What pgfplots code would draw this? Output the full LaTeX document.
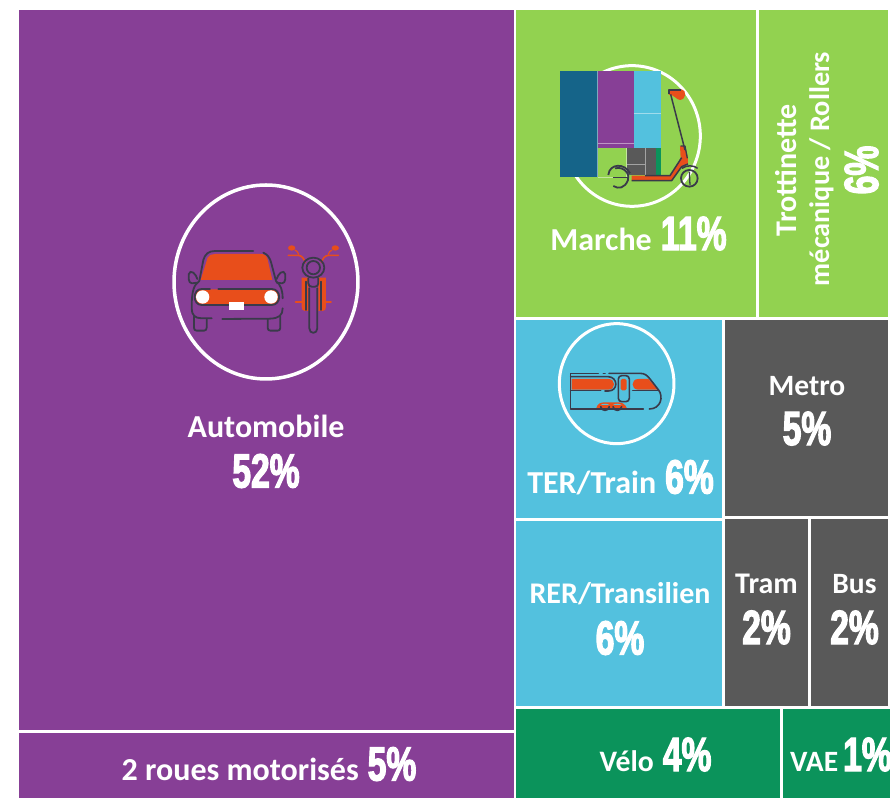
\documentclass[border=0pt]{standalone}
\usepackage{pgfplots}
\pgfplotsset{compat=1.18}
\usepackage{fontspec}
\setmainfont{Carlito}[BoldFont={Carlito Bold}]
\newfontfamily\numfont[FakeStretch=0.7,FakeBold=2.5]{Liberation Sans Bold}
\definecolor{cpurple}{HTML}{873F96}
\definecolor{cgreen}{HTML}{92D250}
\definecolor{ccyan}{HTML}{53C1DE}
\definecolor{cgray}{HTML}{595959}
\definecolor{cdgreen}{HTML}{0B935B}
\definecolor{cblue}{HTML}{156489}
\definecolor{corange}{HTML}{E84E1B}
\definecolor{cline}{HTML}{3A3A4A}
\newcommand{\lab}[2][32]{{\color{white}\fontsize{#1}{#1}\selectfont\bfseries #2}}
\newcommand{\num}[1]{{\color{white}\fontsize{48}{48}\numfont #1}}
\newcommand{\gap}{\hspace{9pt}}
\begin{document}
\begin{tikzpicture}
\path[use as bounding box] (0,0) rectangle (890pt,798pt);
\begin{axis}[at={(0,0)},anchor=south west,scale only axis,width=890pt,height=798pt,
  xmin=0,xmax=890,ymin=0,ymax=798,y dir=reverse,hide axis,clip=false,
  every node/.append style={inner sep=0pt,outer sep=0pt},
  every axis plot/.append style={draw=none}]
\addplot[fill=cpurple] coordinates {(19,10)(514,10)(514,730)(19,730)} -- cycle;
\addplot[fill=cpurple] coordinates {(19,733)(514,733)(514,798)(19,798)} -- cycle;
\addplot[fill=cgreen] coordinates {(516,10)(755.5,10)(755.5,317)(516,317)} -- cycle;
\addplot[fill=cgreen] coordinates {(758.5,10)(888,10)(888,317)(758.5,317)} -- cycle;
\addplot[fill=ccyan] coordinates {(516,320)(722,320)(722,518)(516,518)} -- cycle;
\addplot[fill=ccyan] coordinates {(516,521)(722,521)(722,706)(516,706)} -- cycle;
\addplot[fill=cgray] coordinates {(725,320)(888,320)(888,515.5)(725,515.5)} -- cycle;
\addplot[fill=cgray] coordinates {(725,518.5)(807.5,518.5)(807.5,706)(725,706)} -- cycle;
\addplot[fill=cgray] coordinates {(810.5,518.5)(888,518.5)(888,706)(810.5,706)} -- cycle;
\addplot[fill=cdgreen] coordinates {(516,708.5)(779.5,708.5)(779.5,798)(516,798)} -- cycle;
\addplot[fill=cdgreen] coordinates {(783,708.5)(890,708.5)(890,798)(783,798)} -- cycle;
% labels
\node[anchor=base] at (axis cs:266,437.5) {\lab{Automobile}};
\node[anchor=base] at (axis cs:266,487.5) {\num{52\%}};
\node[anchor=base] at (axis cs:269,780.5) {\lab{2 roues motorisés}\gap\num{5\%}};
\node[anchor=base] at (axis cs:638.5,250) {\lab{Marche}\gap\num{1\kern-1.5pt1\%}};
\node[anchor=base] at (axis cs:620.5,493.5) {\lab{TER/Train}\gap\num{6\%}};
\node[anchor=base] at (axis cs:620,603.5) {\lab[30]{RER/Transilien}};
\node[anchor=base] at (axis cs:620,654.5) {\num{6\%}};
\node[anchor=base] at (axis cs:807,395.5) {\lab[29.5]{Metro}};
\node[anchor=base] at (axis cs:807,445) {\num{5\%}};
\node[anchor=base] at (axis cs:766.5,593.5) {\lab[30]{Tram}};
\node[anchor=base] at (axis cs:766.5,644) {\num{2\%}};
\node[anchor=base] at (axis cs:854.5,593.5) {\lab[29.5]{Bus}};
\node[anchor=base] at (axis cs:854.5,644) {\num{2\%}};
\node[anchor=base] at (axis cs:655.5,771) {\lab[29.7]{Vélo}\gap\num{4\%}};
\node[anchor=base west] at (axis cs:786.5,771) {\lab[29.5]{VAE}\hspace{5pt}\num{1\%}};
\node[anchor=base,rotate=90] at (axis cs:796,170) {\lab[30]{Trottinette}};
\node[anchor=base,rotate=90] at (axis cs:829,169) {\lab[28.3]{mécanique / Rollers}};
\node[anchor=base,rotate=90] at (axis cs:878,170) {\num{6\%}};
\end{axis}
% --- car & motorbike icon (coordinates: 3x zoom pixels)
\begin{scope}[shift={(160pt,623pt)},x=0.3333pt,y=-0.3333pt,line cap=round,line join=round]
\draw[white,line width=3.5pt] (318,321) ellipse[x radius=276,y radius=291];
\fill[corange] (122,315) -- (143,248) .. controls (147,240) and (155,237) .. (165,237) -- (300,237) .. controls (312,237) and (318,240) .. (322,250) -- (337,315) -- cycle;
\fill[corange] (125,343) -- (340,343) .. controls (365,345) and (365,388) .. (340,388) -- (125,388) .. controls (100,388) and (100,345) .. (125,343) -- cycle;
\fill[white] (128,366) circle[radius=20] (333,366) circle[radius=20];
\begin{scope}[draw=cline,line width=1.8pt]
\draw (280,228) -- (165,228) .. controls (145,228) and (135,238) .. (130,255) -- (118,318);
\draw (310,233) .. controls (325,240) and (330,250) .. (334,265) -- (348,318) .. controls (362,330) and (368,345) .. (368,370);
\draw (118,318) .. controls (102,330) and (95,345) .. (95,400) .. controls (95,420) and (105,430) .. (125,430) -- (155,430);
\draw (187,432) -- (330,431) .. controls (358,430) and (368,420) .. (368,400);
\draw (112,323) -- (96,325) .. controls (90,325) and (87,320) .. (86,312) -- (86,298) .. controls (87,290) and (95,288) .. (100,293) .. controls (106,298) and (110,305) .. (112,312);
\draw (350,323) -- (366,325) .. controls (372,325) and (375,320) .. (376,312) -- (376,298) .. controls (375,290) and (367,288) .. (362,293) .. controls (356,298) and (352,305) .. (350,312);
\draw (102,425) -- (102,458) .. controls (102,464) and (105,467) .. (110,467) -- (132,467) .. controls (137,467) and (140,464) .. (140,458) -- (140,432);
\draw (323,432) -- (323,458) .. controls (323,464) and (326,467) .. (331,467) -- (353,467) .. controls (358,467) and (361,464) .. (361,458) -- (361,425);
\draw (175,342) -- (335,342) .. controls (365,342) and (365,390) .. (335,390) -- (125,390) .. controls (97,390) and (97,342) .. (125,342) -- (150,342);
\end{scope}
\fill[white] (207,380) rectangle (253,405);
% motorbike
\fill[corange] (425,308) -- (445,308) -- (445,408) -- (435,408) .. controls (428,408) and (425,403) .. (425,395) -- cycle;
\fill[corange] (475,308) -- (498,308) -- (498,395) .. controls (498,403) and (495,408) .. (488,408) -- (475,408) -- cycle;
\fill[corange] (395,219) ellipse[x radius=11,y radius=8] (526,219) ellipse[x radius=11,y radius=8];
\draw[corange,line width=1.6pt] (385,241) -- (415,241) .. controls (428,243) and (430,250) .. (436,262);
\draw[corange,line width=1.6pt] (535,241) -- (505,241) .. controls (492,243) and (490,250) .. (484,262);
\draw[corange,line width=1.2pt] (405,225) .. controls (412,228) and (414,232) .. (416,238);
\draw[corange,line width=1.2pt] (516,225) .. controls (509,228) and (507,232) .. (505,238);
\draw[corange,line width=1.8pt] (407,380) -- (428,380) (492,380) -- (513,380);
\begin{scope}[draw=cline,line width=1.8pt]
\draw (460,278) circle[radius=20];
\draw (460,278) ellipse[x radius=33,y radius=30];
\draw (445,310) -- (445,325) .. controls (445,332) and (450,335) .. (455,335) -- (465,335) .. controls (470,335) and (475,332) .. (475,325) -- (475,310);
\draw (437,320) -- (437,405) (483,320) -- (483,405);
\draw (448,340) -- (448,460) .. controls (448,478) and (472,478) .. (472,460) -- (472,340);
\end{scope}
\end{scope}
% --- train icon
\begin{scope}[shift={(510pt,483pt)},x=0.3333pt,y=-0.3333pt,line cap=round,line join=round]
\draw[white,line width=3pt] (320,206) ellipse[x radius=172,y radius=180];
\fill[corange] (185,192) -- (295,192) .. controls (318,192) and (318,224) .. (295,224) -- (185,224) -- cycle;
\fill[corange] (385,192) -- (415,192) -- (445,224) -- (385,224) .. controls (362,224) and (362,192) .. (385,192) -- cycle;
\fill[corange,rounded corners=1.5pt] (332,192) rectangle (350,226);
\fill[corange] (258,282) .. controls (262,265) and (272,262) .. (285,262) -- (322,262) .. controls (335,262) and (345,265) .. (352,282) -- cycle;
\fill[ccyan] (272,270) .. controls (277,265) and (293,265) .. (298,270) -- cycle;
\fill[ccyan] (309,270) .. controls (314,265) and (330,265) .. (335,270) -- cycle;
\begin{scope}[draw=cline,line width=1.6pt]
\draw (265,175) -- (182,175) -- (182,282) -- (400,282);
\draw (280,175) -- (285,175);
\draw (297,175) -- (390,175) .. controls (405,175) and (412,182) .. (420,192) -- (445,224) .. controls (462,245) and (452,282) .. (418,282);
\draw (182,185) -- (295,185) .. controls (325,187) and (325,228) .. (295,228) -- (285,228);
\draw (272,227) -- (182,227);
\draw (368,226) -- (445,226);
\draw (325,192) .. controls (325,186) and (330,182) .. (335,182) -- (348,182) .. controls (353,182) and (358,186) .. (358,192) -- (358,250) .. controls (358,256) and (353,260) .. (348,260) -- (335,260) .. controls (330,260) and (325,256) .. (325,250) -- cycle;
\draw (272,275) .. controls (275,290) and (295,290) .. (298,275);
\draw (309,275) .. controls (312,290) and (332,290) .. (335,275);
\end{scope}
\end{scope}
% --- marche icon: circle, small treemap pasted, scooter (coordinates: 3x zoom pixels)
\begin{scope}[shift={(550pt,738pt)},x=0.3333pt,y=-0.3333pt,line join=round]
\draw[white,line width=3pt] (246,228) ellipse[x radius=205,y radius=211];
\fill[cblue] (29,33) rectangle (143,352);
\fill[cpurple] (143,33) rectangle (251,263);
\fill[ccyan] (251,33) rectangle (332,263);
\fill[cgray] (230,263) rectangle (317,345);
\fill[cdgreen] (317,263) rectangle (332,345);
\fill[cgreen] (143,263) rectangle (230,352);
\draw[white,opacity=.45,line width=.6pt] (143,33) -- (143,352) (143,250) -- (251,250) (251,160) -- (332,160) (143,352) -- (230,352) (230,263) -- (230,352) (287,263) -- (287,345) (230,313) -- (287,313);
% scooter
\fill[corange] (245,347) -- (360,347) -- (392,295) -- (390,258) -- (405,258) -- (414,292) -- (414,312) -- (395,320) -- (365,362) -- (245,362) -- cycle;
\fill[corange] (357,88) -- (395,88) .. controls (410,90) and (410,118) .. (390,120) .. controls (378,118) and (375,108) .. (365,105) -- (357,105) -- cycle;
\draw[cline,line width=1.5pt] (357,103) -- (357,90) -- (392,90);
\draw[cline,line width=1.5pt] (362,103) -- (405,270);
\draw[cline,line width=1.3pt] (392,258) -- (405,258) -- (412,295);
\draw[cline,line width=1.5pt] (285,347) -- (360,347) -- (395,293) (245,362) -- (365,362) -- (395,320) -- (414,312);
\draw[cline,line width=1.8pt] (418,355) circle[radius=25];
\draw[cline,line width=1.3pt] (418,335) -- (420,375);
\draw[cline,line width=1.5pt] (396,325) .. controls (410,315) and (430,315) .. (443,325);
\draw[cline,line width=1.8pt] (175,345) .. controls (178,310) and (225,308) .. (240,340);
\draw[cline,line width=1.8pt] (195,325) .. controls (225,318) and (240,345) .. (234,360) .. controls (225,385) and (205,388) .. (190,378);
\draw[cline,line width=1.5pt] (190,352) -- (235,352);
\end{scope}
\end{tikzpicture}
\end{document}
